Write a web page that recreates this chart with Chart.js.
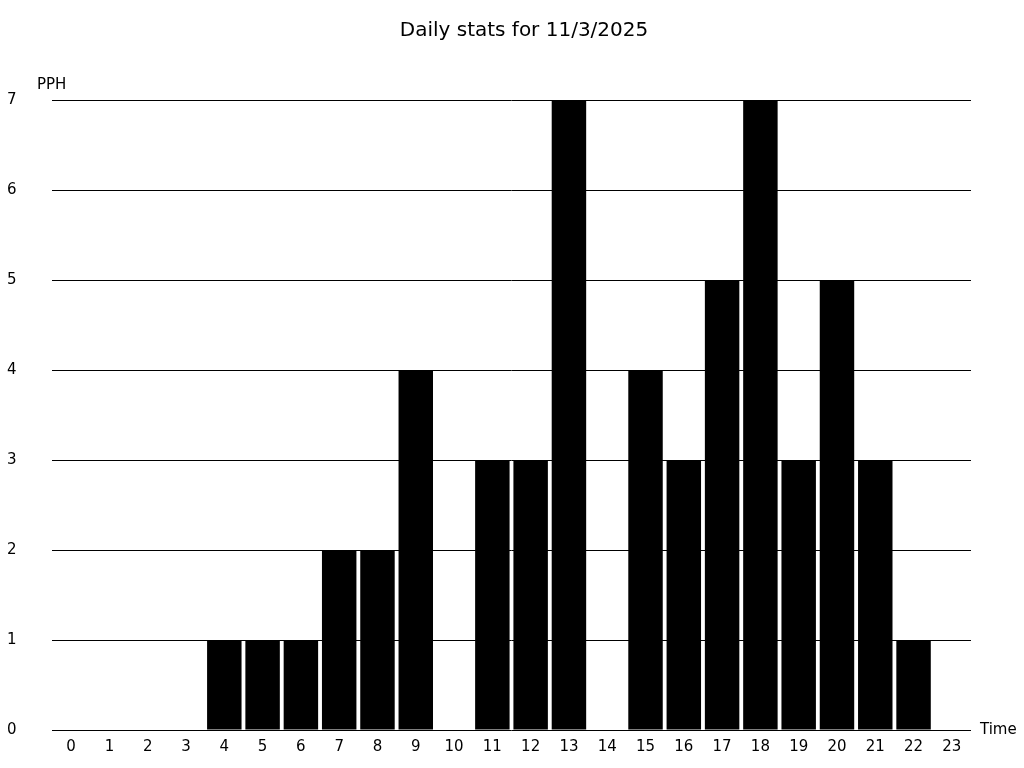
<!DOCTYPE html>
<html>
<head>
<meta charset="utf-8">
<script src="https://cdn.jsdelivr.net/npm/chart.js@4/dist/chart.umd.min.js"></script>
<style>
  html, body { margin: 0; padding: 0; background: #fff; }
  #wrap { width: 1024px; height: 768px; }
</style>
</head>
<body>
<div id="wrap"><canvas id="chart" width="1024" height="768"></canvas></div>
<script>
// ── Data ──────────────────────────────────────────────────────────────────
const hours  = ['0','1','2','3','4','5','6','7','8','9','10','11','12','13','14','15','16','17','18','19','20','21','22','23'];
const pph    = [0, 0, 0, 0, 1, 1, 1, 2, 2, 4, 0, 3, 3, 7, 0, 4, 3, 5, 7, 3, 5, 3, 1, 0];
const yTicks = [0, 1, 2, 3, 4, 5, 6, 7];

const FONT = "'DejaVu Sans', sans-serif";
const TITLE = 'Daily stats for 11/3/2025';

// ── Title and axis captions (PPH / Time) ────────────────────────────────
const captions = {
  id: 'captions',
  afterDraw(chart) {
    const { ctx, chartArea } = chart;
    ctx.save();
    ctx.fillStyle = '#000';
    ctx.textBaseline = 'middle';

    ctx.font = '20px ' + FONT;
    ctx.textAlign = 'center';
    ctx.fillText(TITLE, 524, 31);

    ctx.font = '15px ' + FONT;
    ctx.textAlign = 'left';
    ctx.fillText('PPH', 37, chartArea.top - 15);
    ctx.fillText('Time', chartArea.right + 9, chartArea.bottom);
    ctx.restore();
  },
};

new Chart(document.getElementById('chart'), {
  type: 'bar',
  data: {
    labels: hours,
    datasets: [{
      data: pph,
      backgroundColor: '#000',
      borderWidth: 0,
      barPercentage: 0.9,
      categoryPercentage: 1,
    }],
  },
  options: {
    responsive: false,
    animation: false,
    layout: { padding: { left: 7, right: 53, top: 100, bottom: 0 } },
    plugins: {
      legend: { display: false },
      tooltip: { enabled: false },
      title: { display: false },
    },
    scales: {
      x: {
        grid: { display: false, drawTicks: false },
        border: { display: false },
        ticks: { color: '#000', font: { family: FONT, size: 15 }, padding: 8, maxRotation: 0 },
        afterFit: s => { s.height = 38; },
      },
      y: {
        min: 0,
        max: 7,
        afterBuildTicks: s => { s.ticks = yTicks.map(v => ({ value: v })); },
        grid: { color: '#000', lineWidth: 1, drawTicks: false },
        border: { display: false },
        ticks: { color: '#000', font: { family: FONT, size: 15 }, padding: 4, crossAlign: 'far' },
        afterFit: s => { s.width = 45; },
      },
    },
  },
  plugins: [captions],
});
</script>
</body>
</html>
